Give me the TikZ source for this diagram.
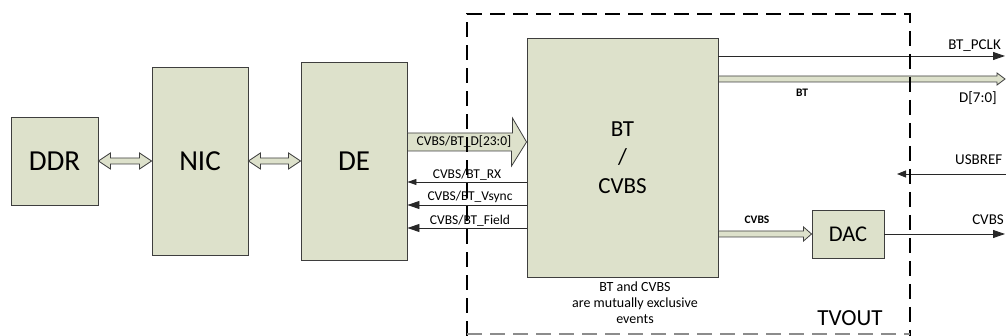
\documentclass[tikz,border=0pt]{standalone}
\usepackage{fontspec}
\setmainfont{Carlito}
\usepackage{tikz}
\usetikzlibrary{
  arrows.meta,
  positioning,
  calc
}
\definecolor{BlockFill}{RGB}{221,225,203}
\definecolor{BlockEdge}{RGB}{62,62,62}
\definecolor{WireDark}{RGB}{40,40,40}
\tikzset{
  block/.style={draw=BlockEdge,fill=BlockFill,line width=0.9pt,inner sep=0pt,align=center,font=\fontsize{29}{34}\selectfont},
  fatbus/.style={draw=BlockEdge,fill=BlockFill,line width=0.8pt,line join=miter},
  sig/.style={-{Triangle[length=12pt,width=8pt]},line width=0.9pt,draw=WireDark},
  sigsmall/.style={-{Triangle[length=9pt,width=6pt]},line width=0.9pt,draw=WireDark},
  lbl/.style={font=\fontsize{13.5}{16}\selectfont,inner sep=1.5pt},
  pinlbl/.style={font=\fontsize{15}{18}\selectfont,inner sep=0pt},
  tag/.style={font=\fontsize{11.5}{14}\selectfont\bfseries,inner sep=0pt},
  note/.style={font=\fontsize{14}{16}\selectfont,align=center,inner sep=0pt},
  tvoutbox/.style={dash pattern=on 15pt off 8pt,line width=1.8pt,draw=black}
}
\begin{document}
\begin{tikzpicture}[x=1pt,y=1pt]
\useasboundingbox (0,0) rectangle (1006,336);
\node[block, minimum width=87pt, minimum height=88pt] (ddr) at (54.5,175) {DDR};
\node[block, minimum width=96pt, minimum height=188pt] (nic) at (200,175) {NIC};
\node[block, minimum width=106pt, minimum height=198pt] (de) at (354,175) {DE};
\node[block, minimum width=191pt, minimum height=239pt, font=\fontsize{23}{28.5}\selectfont] (bt) at (622.5,178.5) {BT\\/\\CVBS};
\node[block, minimum width=72pt, minimum height=48pt, font=\fontsize{22.5}{27}\selectfont] (dac) at (848,102) {DAC};
\coordinate (pclk) at (1005,280);
\coordinate (dout) at (1005,257);
\coordinate (usbin) at (1006,162);
\coordinate (usbend) at (897,162);
\coordinate (cvbsout) at (1005,102);
\draw[fatbus] (ddr.east) -- ++(12,8) -- ++(0,-5) -- ($(nic.west)+(-12,3)$) -- ++(0,5) -- (nic.west) -- ++(-12,-8) -- ++(0,5) -- ($(ddr.east)+(12,-3)$) -- ++(0,-5) -- cycle;
\draw[fatbus] (nic.east) -- ++(12,8) -- ++(0,-5) -- ($(de.west)+(-12,3)$) -- ++(0,5) -- (de.west) -- ++(-12,-8) -- ++(0,5) -- ($(nic.east)+(12,-3)$) -- ++(0,-5) -- cycle;
\draw[fatbus] (de.east |- 0,203) -- ++(105,0) -- ++(0,15) -- (bt.west |- 0,194) -- ++(-15,-24) -- ++(0,15) -- (de.east |- 0,185) -- cycle;
\node[lbl] (dbus) at (464,194) {CVBS/BT\_D[23:0]};
\draw[sigsmall] (bt.west |- 0,154) -- node[lbl, above] {CVBS/BT\_RX} (de.east |- 0,154);
\draw[sig] (bt.west |- 0,131) -- node[lbl, above, xshift=3pt] {CVBS/BT\_Vsync} (de.east |- 0,131);
\draw[sig] (bt.west |- 0,108) -- node[lbl, above, xshift=3pt] {CVBS/BT\_Field} (de.east |- 0,108);
\draw[sig] (bt.east |- pclk) -- (pclk);
\draw[fatbus] (bt.east |- 0,260) -- ($(dout)+(-8,3)$) -- ++(0,3) -- (dout) -- ++(-8,-6) -- ++(0,3) -- (bt.east |- 0,254) -- cycle;
\draw[sigsmall, -{Triangle[length=9pt,width=7pt]}] (usbin) -- (usbend);
\draw[fatbus] (bt.east |- 0,105) -- ($(dac.west)+(-8,3)$) -- ++(0,4) -- (dac.west) -- ++(-8,-7) -- ++(0,4) -- (bt.east |- 0,99) -- cycle;
\draw[sig] (dac.east) -- (cvbsout);
\node[pinlbl, anchor=east] at (1001,290) {BT\_PCLK};
\node[pinlbl, anchor=east] at (997,238) {D[7:0]};
\node[pinlbl, anchor=west] at (955,176) {USBREF};
\node[pinlbl, anchor=east] at (1004,116) {CVBS};
\node[tag] at (802,243) {BT};
\node[tag] at (757,116) {CVBS};
\node[font=\fontsize{23}{28}\selectfont] (tvout) at (850,18) {TVOUT};
\node[note] (excl) at (635,33) {BT and CVBS\\are mutually exclusive\\events};
\draw[tvoutbox] (467,0) -- (467,322) -- (910,322) -- (910,0);
\draw[tvoutbox, draw=black!45] (467,2) -- (910,2);
\end{tikzpicture}
\end{document}
